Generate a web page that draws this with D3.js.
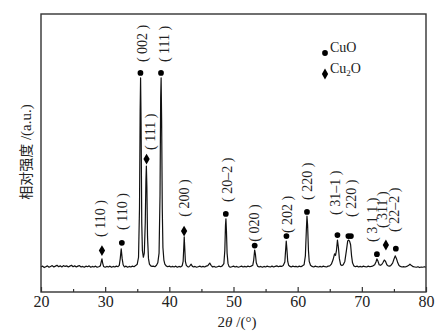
<!DOCTYPE html>
<html><head><meta charset="utf-8">
<script src="https://cdn.jsdelivr.net/npm/d3@7"></script>
<style>
html,body{margin:0;padding:0;background:#fff;}
svg{display:block;}
</style></head>
<body>
<svg id="chart" width="435" height="335"></svg>
<script>
// ---- DATA ----
const twoTheta = [20.0,20.25,20.5,20.75,21.0,21.25,21.5,21.75,22.0,22.25,22.5,22.75,23.0,23.25,23.5,23.75,24.0,24.25,24.5,24.75,25.0,25.25,25.5,25.75,26.0,26.25,26.5,26.75,27.0,27.25,27.5,27.75,28.0,28.25,28.5,28.75,29.0,29.25,29.4,29.5,29.6,29.75,30.0,30.25,30.5,30.75,31.0,31.25,31.5,31.75,32.0,32.2,32.35,32.5,32.65,32.8,33.0,33.25,33.5,33.75,34.0,34.25,34.5,34.75,35.0,35.2,35.35,35.45,35.52,35.6,35.7,35.8,35.95,36.1,36.25,36.35,36.42,36.5,36.6,36.75,36.9,37.1,37.3,37.5,37.75,38.0,38.2,38.4,38.55,38.65,38.72,38.8,38.9,39.0,39.15,39.3,39.5,39.75,40.0,40.25,40.5,40.75,41.0,41.25,41.5,41.75,42.0,42.15,42.25,42.32,42.4,42.5,42.65,42.85,43.0,43.2,43.4,43.6,43.8,44.0,44.25,44.5,44.75,45.0,45.25,45.5,45.75,46.0,46.3,46.5,46.75,47.0,47.25,47.5,47.75,48.0,48.25,48.5,48.65,48.75,48.82,48.9,49.0,49.15,49.3,49.5,49.75,50.0,50.25,50.5,50.75,51.0,51.25,51.5,51.75,52.0,52.25,52.5,52.75,53.0,53.15,53.3,53.42,53.55,53.75,54.0,54.25,54.5,54.75,55.0,55.25,55.5,55.75,56.0,56.25,56.5,56.75,57.0,57.25,57.5,57.75,58.0,58.12,58.22,58.32,58.45,58.6,58.8,59.0,59.25,59.5,59.75,60.0,60.25,60.5,60.75,61.0,61.2,61.35,61.45,61.55,61.68,61.8,62.0,62.25,62.5,62.75,63.0,63.25,63.5,63.75,64.0,64.25,64.5,64.75,65.0,65.25,65.5,65.75,65.9,66.05,66.2,66.35,66.5,66.7,66.9,67.1,67.35,67.6,67.8,67.95,68.1,68.25,68.4,68.55,68.75,69.0,69.25,69.5,69.75,70.0,70.25,70.5,70.75,71.0,71.25,71.5,71.75,72.0,72.2,72.35,72.5,72.7,72.9,73.1,73.3,73.5,73.7,73.9,74.1,74.3,74.5,74.8,75.0,75.2,75.4,75.6,75.8,76.0,76.25,76.5,76.75,77.0,77.25,77.5,77.75,78.0,78.25,78.5,78.75,79.0,79.25,79.5,79.75,80.0];
const intensity = [9.0,9.3,8.8,9.1,9.4,8.9,9.2,9.5,9.0,9.3,9.6,9.1,9.4,9.0,9.5,9.2,9.4,9.0,9.3,9.6,9.1,9.4,9.0,9.3,9.5,9.0,9.2,8.9,9.3,9.1,9.4,8.9,9.2,9.0,9.3,8.9,9.1,9.4,11.0,11.9,10.5,9.2,8.9,9.2,9.0,9.3,8.9,9.2,9.0,9.3,9.1,9.6,12.0,15.5,12.0,9.8,9.0,9.3,8.9,9.2,9.0,9.3,9.1,9.5,10.0,12.5,30,65,77,60,25,15,12.5,14,25,40,45.3,38,20,12,10.0,9.4,9.2,9.3,9.1,9.6,10.5,14,35,70,77,62,30,16,11.5,10,9.4,9.1,9.3,9.0,9.2,9.0,9.3,8.9,9.2,9.0,9.4,11,16,19.8,16,11,9.6,9.1,9.0,9.4,10.0,9.2,9.0,9.2,8.9,9.1,9.3,9.0,9.2,9.0,9.3,9.5,10.4,9.6,9.0,9.2,8.9,9.1,9.3,9.1,9.4,10.2,15,24,26.3,22,14,10.2,9.2,8.9,9.1,9.3,9.0,9.2,8.9,9.1,9.3,9.0,9.2,9.0,9.3,9.1,9.3,9.6,11.5,15.1,13.5,10.5,9.3,9.0,9.2,8.9,9.2,9.0,9.3,9.1,9.0,9.3,9.0,9.2,9.4,9.1,9.3,9.2,9.5,10.8,15,18.3,15.5,11,9.6,9.2,9.0,9.3,9.1,9.2,9.0,9.3,9.1,9.4,9.8,13,22,27.3,24,15,11,9.6,9.2,9.0,9.3,9.1,9.0,9.2,9.0,9.3,9.1,9.0,9.3,9.4,10,11.5,13.7,13.2,15,18.7,16,12,9.8,9.5,9.8,11,15,18.4,18.7,18.2,17,13,10.5,9.4,9.1,9.3,9.0,9.2,9.0,9.3,9.1,9.0,9.3,9.1,9.2,9.4,9.8,10.8,11.9,11.2,9.8,9.6,9.9,10.6,11.5,11.0,9.8,9.4,9.3,9.5,10.4,11.8,13.0,12.0,10.5,9.5,9.2,9.0,9.1,9.0,9.2,9.5,10.0,9.5,9.1,9.0,8.9,9.1,8.8,9.0,8.9,9.1,8.9];

// peak markers
const markerPos   = [29.5, 32.6, 35.5, 36.45, 38.7, 42.3, 48.8, 53.3, 58.25, 61.45, 66.2, 67.9, 68.3, 72.35, 73.75, 75.3];
const markerPhase = ["Cu2O","CuO","CuO","Cu2O","CuO","Cu2O","CuO","CuO","CuO","CuO","CuO","CuO","CuO","CuO","Cu2O","CuO"];
const markerValue = [14.9, 17.7, 78.8, 47.8, 78.8, 21.9, 28.1, 16.7, 20.1, 28.8, 20.5, 20.1, 20.1, 13.6, 16.9, 15.6];

// hkl labels
const labelText  = ["( 110 )","( 110 )","( 002 )","( 111 )","( 111 )","( 200 )","( 20–2 )","( 020 )","( 202 )","( 220 )","( 31–1 )","( 220 )","( 3 1 1 )","( 311 )","( 22–2 )"];
const labelPos   = [29.2, 32.7, 35.74, 39.25, 37.0, 42.33, 48.94, 53.2, 58.34, 61.4, 65.9, 68.35, 71.65, 73.15, 75.05];
const labelBase  = [19.8, 22.3, 82.7, 82.7, 51.1, 27.1, 32.4, 18.1, 21.2, 33.1, 27.7, 27.0, 18.0, 23.0, 21.6];

const xTicks = [20,30,40,50,60,70,80];
const xMinorTicks = [25,35,45,55,65,75];
const legendPhases = ["CuO","Cu2O"];

// ---- CHART ----
const svg = d3.select("#chart");
const L = 41, R = 426, T = 14, B = 292;
const x = d3.scaleLinear().domain([20,80]).range([L,R]);
const y = d3.scaleLinear().domain([0,100]).range([B,T]);

const serif = "'Liberation Serif','Times New Roman',serif";

// curve
const pts = twoTheta.map((t,i)=>[t,intensity[i]]);
svg.append("path").datum(pts)
  .attr("d", d3.line().x(d=>x(d[0])).y(d=>y(d[1])))
  .attr("fill","none").attr("stroke","#111").attr("stroke-width",1.2)
  .attr("stroke-linejoin","round");

// x axis
const xAxis = d3.axisBottom(x).tickValues(xTicks).tickSizeInner(-5).tickSizeOuter(0).tickPadding(4).tickFormat(d3.format("d"));
const gx = svg.append("g").attr("transform",`translate(0,${B})`).call(xAxis);
gx.select(".domain").remove();
gx.selectAll("line").attr("stroke","#333").attr("stroke-width",1.2);
gx.selectAll("text").attr("font-family",serif).attr("font-size",16).attr("fill","#222");
const xMinor = d3.axisBottom(x).tickValues(xMinorTicks).tickSizeInner(-3).tickSizeOuter(0).tickFormat("");
const gxm = svg.append("g").attr("transform",`translate(0,${B})`).call(xMinor);
gxm.select(".domain").remove();
gxm.selectAll("line").attr("stroke","#333").attr("stroke-width",1.2);

// frame
svg.append("rect").attr("x",L).attr("y",T).attr("width",R-L).attr("height",B-T)
  .attr("fill","none").attr("stroke","#333").attr("stroke-width",1.4);

// markers
const sym = {CuO: d3.symbol().type(d3.symbolCircle).size(26),
             Cu2O: d3.symbol().type(d3.symbolDiamond).size(34)};
svg.append("g").selectAll("path").data(markerPos).join("path")
  .attr("transform",(d,i)=>`translate(${x(d)},${y(markerValue[i])})`)
  .attr("d",(d,i)=>sym[markerPhase[i]]())
  .attr("fill","#000");

// labels
svg.append("g").selectAll("text").data(labelText).join("text")
  .attr("transform",(d,i)=>`translate(${x(labelPos[i])},${y(labelBase[i])}) rotate(-90)`)
  .attr("dy","0.35em")
  .attr("font-family",serif).attr("font-size",14).attr("fill","#222")
  .text(d=>d);

// legend
const lg = svg.append("g");
legendPhases.forEach((p,i)=>{
  const ly = 53 + i*21;
  lg.append("path").attr("transform",`translate(325,${ly})`).attr("d",sym[p]()).attr("fill","#000");
  const t = lg.append("text").attr("x",330).attr("y",ly-1.5)
    .attr("font-family",serif).attr("font-size",14).attr("fill","#222");
  if(p==="Cu2O"){
    t.append("tspan").text("Cu");
    t.append("tspan").attr("font-size",9).attr("dy",3).text("2");
    t.append("tspan").attr("dy",-3).text("O");
  } else t.text(p);
});

// axis titles
const xt = svg.append("text").attr("x",237).attr("y",327).attr("text-anchor","middle")
  .attr("font-family",serif).attr("font-size",15).attr("fill","#222");
xt.append("tspan").text("2");
xt.append("tspan").attr("font-style","italic").text("θ");
xt.append("tspan").text(" /(°)");

const yt = svg.append("text").attr("transform",`translate(25,152) rotate(-90)`)
  .attr("text-anchor","middle").attr("dy","0.35em").attr("fill","#222");
yt.append("tspan").attr("font-family","'Noto Sans CJK SC',sans-serif").attr("font-size",14).text("相对强度");
yt.append("tspan").attr("font-family",serif).attr("font-size",15).text(" /(a.u.)");
</script>
</body></html>
